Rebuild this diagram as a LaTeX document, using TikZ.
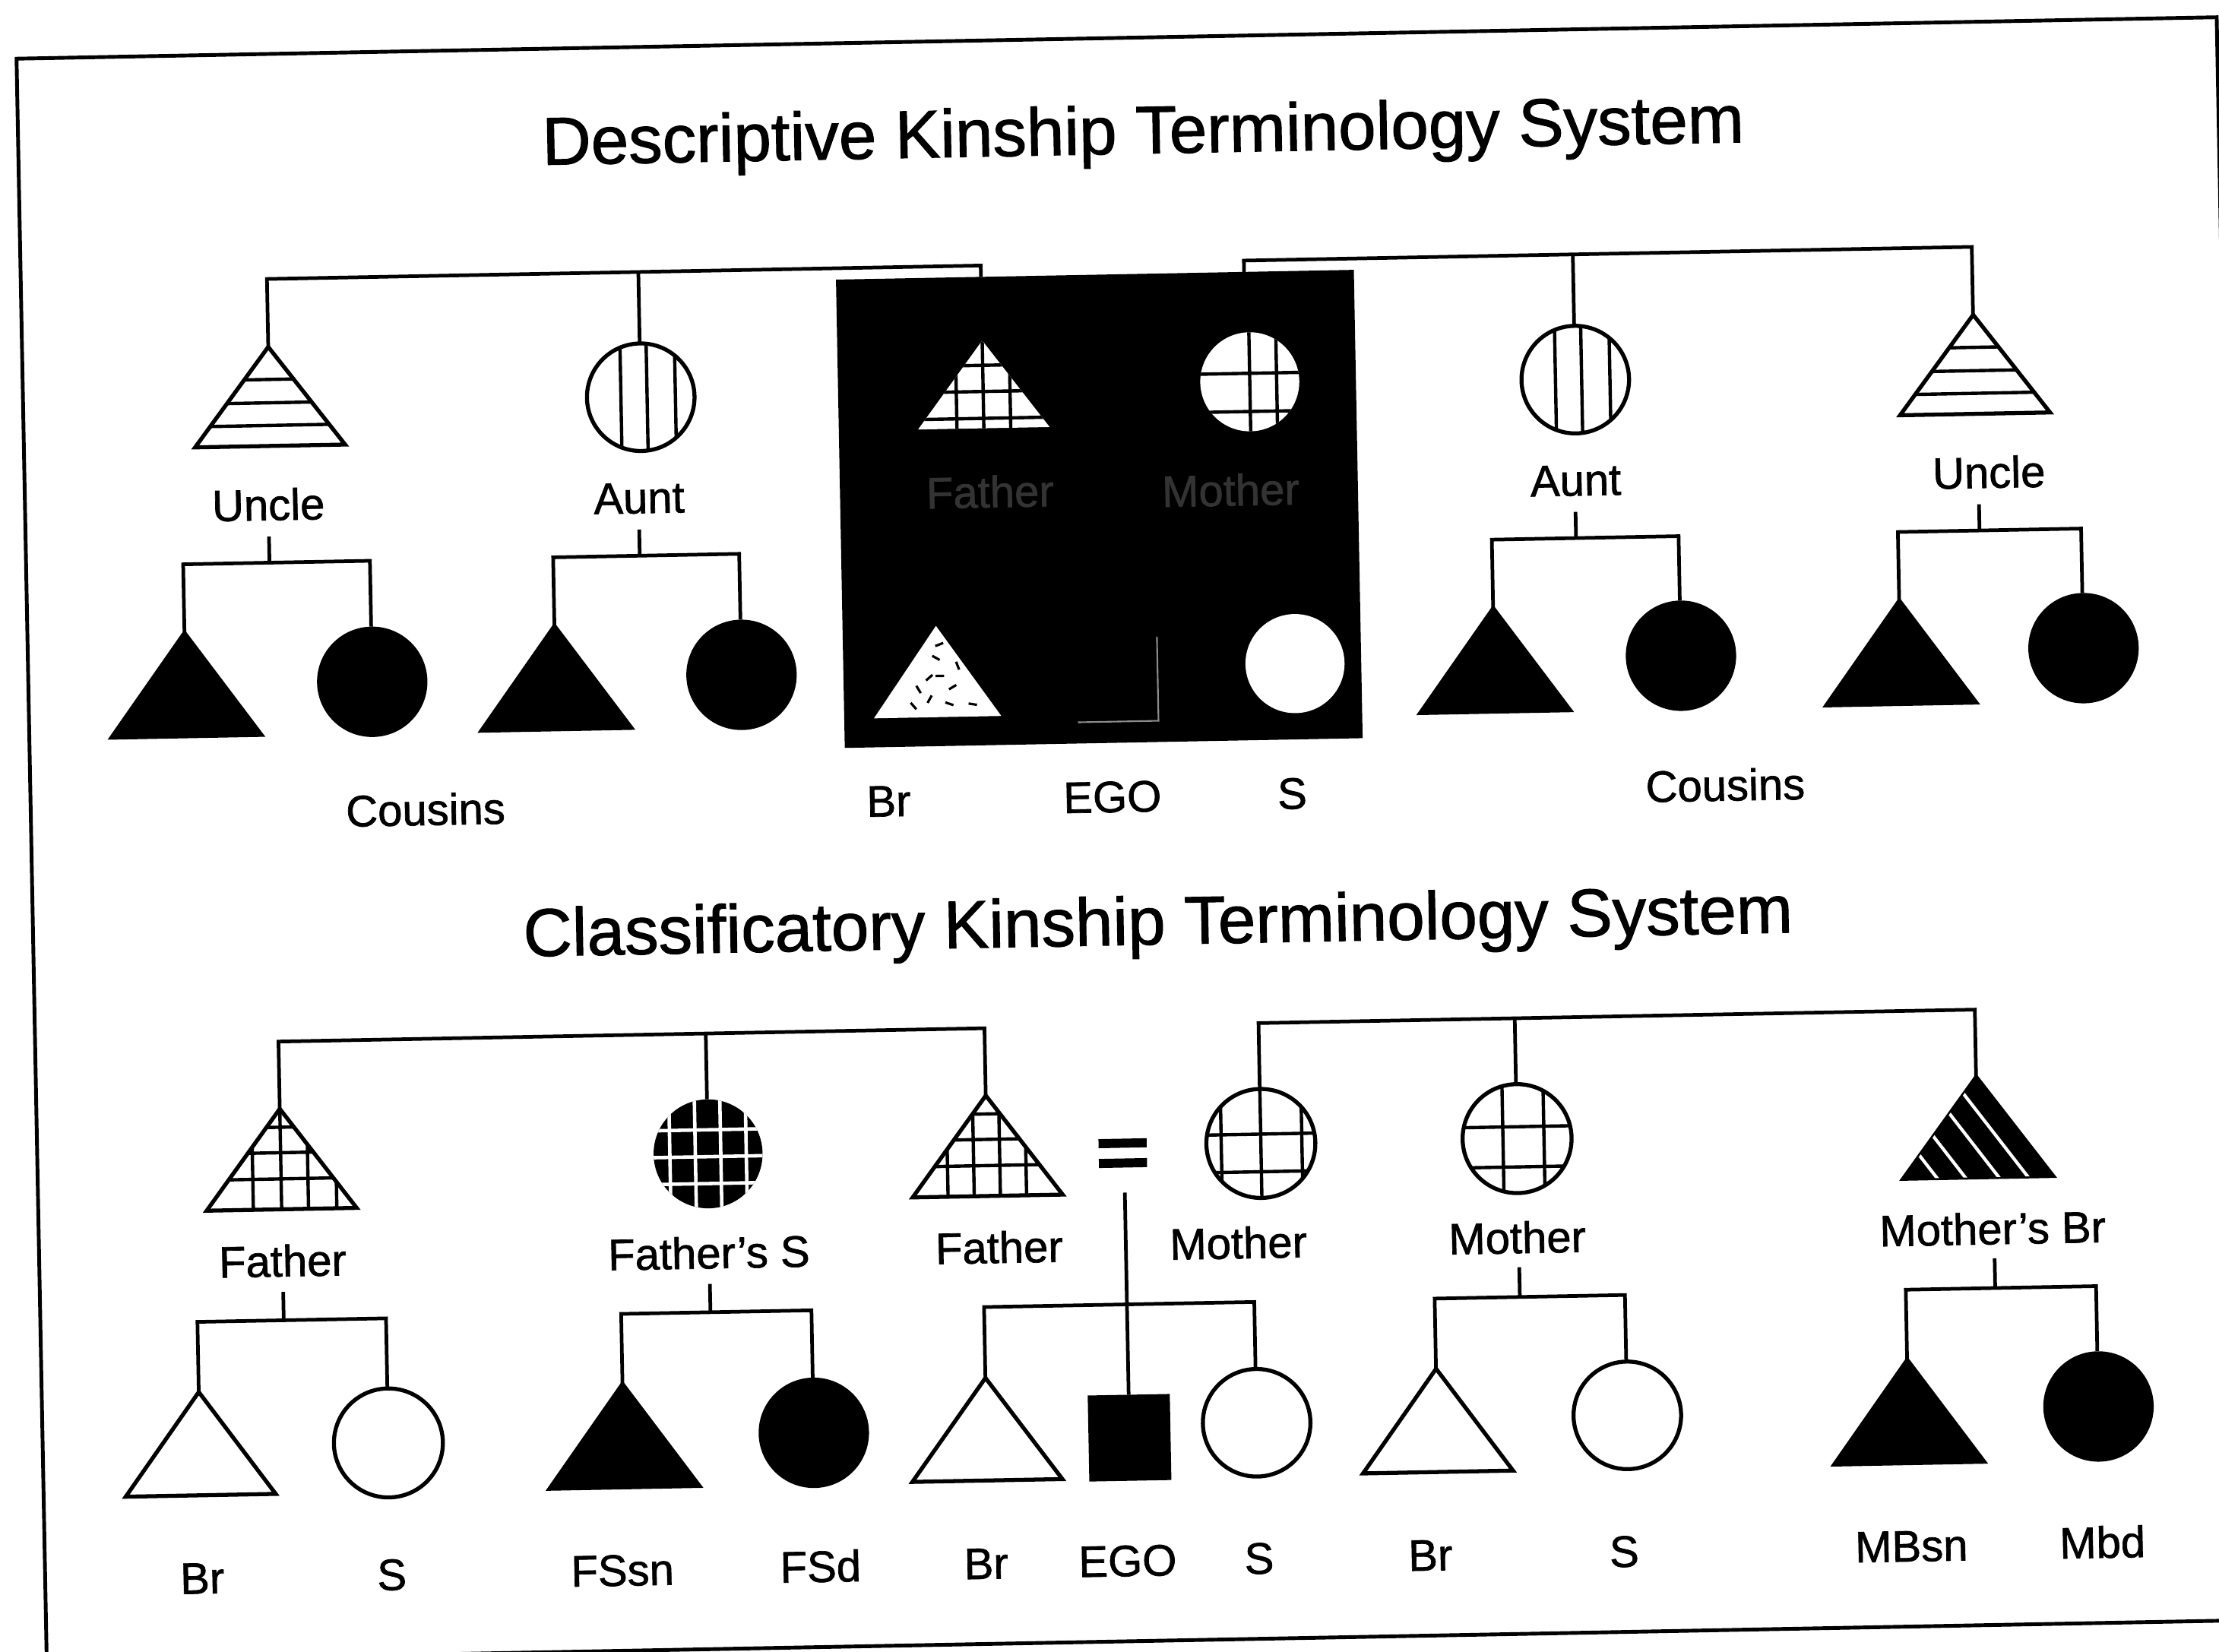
\documentclass[tikz,border=0pt]{standalone}
\usepackage{fontspec}
\setmainfont{Liberation Sans}[FakeBold=1.2]
% isosceles triangle: apex x, apex y, base y
\newcommand{\kintri}[4][]{\path[#1] (#2,#3) -- (#2+53,#4) -- (#2-53,#4) -- cycle;}
% triangle with horizontal stripes
\newcommand{\hstripetri}[3]{%
  \begin{scope}
    \clip (#1,#2) -- (#1+53,#3) -- (#1-53,#3) -- cycle;
    \foreach \d in {23,39.5,55.5}{\draw[hatch] (#1-60,#2+\d) -- (#1+60,#2+\d);}
  \end{scope}
  \kintri[outl]{#1}{#2}{#3}}
% circle with vertical stripes
\newcommand{\vstripecirc}[2]{%
  \begin{scope}
    \clip (#1,#2) circle (38);
    \foreach \d in {-14,4.5,24.5}{\draw[hatch] (#1+\d,#2-40) -- (#1+\d,#2+40);}
  \end{scope}
  \draw[outl] (#1,#2) circle (38);}
% triangle with a square grid: x, apex, base, vertical offsets, horizontal offsets above base
\newcommand{\gridtri}[5]{%
  \begin{scope}
    \clip (#1,#2) -- (#1+53,#3) -- (#1-53,#3) -- cycle;
    \foreach \d in {#4}{\draw[hatch] (#1+\d,#2-5) -- (#1+\d,#3+5);}
    \foreach \d in {#5}{\draw[hatch] (#1-60,#3-\d) -- (#1+60,#3-\d);}
  \end{scope}
  \kintri[outl]{#1}{#2}{#3}}
% circle with a grid: x, y, r, vertical offsets, horizontal offsets
\newcommand{\gridcirc}[5]{%
  \begin{scope}
    \clip (#1,#2) circle (#3);
    \foreach \d in {#4}{\draw[hatch] (#1+\d,#2-45) -- (#1+\d,#2+45);}
    \foreach \d in {#5}{\draw[hatch] (#1-45,#2+\d) -- (#1+45,#2+\d);}
  \end{scope}
  \draw[outl] (#1,#2) circle (#3);}
\begin{document}
\begin{tikzpicture}[x=0.01862cm,y=-0.01862cm,
  conn/.style={line width=1.35pt},
  outl/.style={line width=1.5pt, draw=black, line join=miter},
  blk/.style={line width=1.5pt, draw=black, fill=black, line join=miter},
  wht/.style={line width=1.5pt, draw=black, fill=white, line join=miter},
  hatch/.style={line width=1.25pt},
  lab/.style={font=\fontsize{16.5}{18}\selectfont, inner sep=0pt, anchor=base},
  ttl/.style={font=\fontsize{25.3}{28}\selectfont, inner sep=0pt, anchor=base},
  faint/.style={lab, text=black!80},
  dash mark/.style={line width=0.9pt, black}]
\useasboundingbox (0,0) rectangle (1568,1167);
\fill[white] (0,0) rectangle (1568,1167);
\begin{scope}[rotate around={1.08:(784,583)}, transform shape]

% outer frame
\draw[line width=1.4pt] (22,27) rectangle (1577,1160);

% ================= Descriptive system =================
\node[ttl] (t1) at (817,109) {Descriptive Kinship Terminology System};

% dark panel around ego's own family
\fill (598,194) rectangle (964,525);

% parents' generation
\coordinate (uL) at (196,234);
\coordinate (aL) at (458.5,236.5);
\coordinate (pL) at (700.5,194);
\coordinate (pR) at (886.5,194);
\coordinate (aR) at (1119,236.5);
\coordinate (uR) at (1401,234);
\draw[conn] (uL) -- ++(0,-48) -| (pL);
\draw[conn] (aL) -- ++(0,-50.5);
\draw[conn] (pR) -- ++(0,-8) -| (uR);
\draw[conn] (aR) -- ++(0,-50.5);

\hstripetri{196}{234}{304}
\vstripecirc{458.5}{274.5}
\vstripecirc{1119}{274.5}
\hstripetri{1401}{234}{304}

% shapes inside the dark panel
\begin{scope}
  \fill[white] (700.5,239) -- (747,301) -- (654,301) -- cycle;
  \clip (700.5,239) -- (747,301) -- (654,301) -- cycle;
  \foreach \d in {-19,0,19}{\draw[hatch] (700.5+\d,230) -- (700.5+\d,305);}
  \foreach \d in {7,26,44.5}{\draw[hatch] (650,301-\d) -- (750,301-\d);}
\end{scope}
\begin{scope}
  \fill[white] (889,271.7) circle (35);
  \clip (889,271.7) circle (35);
  \foreach \d in {0,19}{\draw[hatch] (889+\d,230) -- (889+\d,310);}
  \foreach \d in {-6,21}{\draw[hatch] (850,271.7+\d) -- (930,271.7+\d);}
\end{scope}
\fill[white] (664,440) -- (709,504.5) -- (619,504.5) -- cycle;
\foreach \px/\py/\a in {663.6/462.6/30, 658.6/476.5/-40, 650.9/484.7/60, 666.1/475.4/0,
  675/483.5/-30, 689/495.8/10, 647.1/496.3/50, 658.6/491.7/-60, 672.5/495.2/20,
  678.8/468.4/70, 666.1/453.2/-20}{
  \draw[dash mark] (\px,\py) ++(\a:3) -- ++(\a+180:6);}
\fill[white] (917.2,471.4) circle (35);
\draw[black!45, line width=0.6pt] (820,450.6) -- (820,510) -- (763,510);

% labels of the parents' generation
\node[lab] (lUncleL) at (194,356.5) {Uncle};
\node[lab] (lAuntL) at (456,356.5) {Aunt};
\node[faint] (lFaD) at (704,357) {Father};
\node[faint] (lMoD) at (874,359) {Mother};
\node[lab] (lAuntR) at (1118,356.5) {Aunt};
\node[lab] (lUncleR) at (1410,356.5) {Uncle};

% cousins
\coordinate (tUL) at (194,368);
\coordinate (tAL) at (455.7,368);
\coordinate (tAR) at (1117.5,368);
\coordinate (tUR) at (1402.7,368);
\foreach \t in {tUL,tAL,tAR,tUR}{\draw[conn] (\t) -- ++(0,18.5);}

\coordinate (cUL1) at (133,435);   \coordinate (cUL2) at (265,433);
\coordinate (cAL1) at (394.5,435); \coordinate (cAL2) at (526,433);
\coordinate (cAR1) at (1058,435);  \coordinate (cAR2) at (1190,432);
\coordinate (cUR1) at (1345,435);  \coordinate (cUR2) at (1474.5,432);
\draw[conn] (cUL1) -- ++(0,-48.5) -| (cUL2);
\draw[conn] (cAL1) -- ++(0,-48.5) -| (cAL2);
\draw[conn] (cAR1) -- ++(0,-48.5) -| (cAR2);
\draw[conn] (cUR1) -- ++(0,-48.5) -| (cUR2);

\kintri[blk]{133}{435}{508}
\fill (265,472) circle (39);
\kintri[blk]{394.5}{435}{508}
\fill (526,472) circle (39);
\kintri[blk]{1058}{435}{508}
\fill (1190,471) circle (39);
\kintri[blk]{1345}{435}{508}
\fill (1474.5,471) circle (39);

\node[lab] (lCousL) at (301,574) {Cousins};
\node[lab] (lBrD) at (628.3,574) {Br};
\node[lab] (lEgoD) at (786.4,574) {EGO};
\node[lab] (lSD) at (913.5,574) {S};
\node[lab] (lCousR) at (1219.6,574) {Cousins};

% ================= Classificatory system =================
\node[ttl] (t2) at (817,668) {Classificatory Kinship Terminology System};

\coordinate (f1) at (194,772.5);
\coordinate (fs) at (496,771.5);
\coordinate (f2) at (693,772.5);
\coordinate (m1) at (886.7,771.5);
\coordinate (m2) at (1067.8,771.5);
\coordinate (mb) at (1393,772.5);
\draw[conn] (f1) -- ++(0,-47.5) -| (f2);
\draw[conn] (fs) -- ++(0,-46.5);
\draw[conn] (m1) -- ++(0,-46.5) -| (mb);
\draw[conn] (m2) -- ++(0,-46.5);

\gridtri{194}{772.5}{843.5}{-20,0,19,39}{21.5,40,58}
\fill (496,810) circle (38.5);
\begin{scope}
  \clip (496,810) circle (38.5);
  \foreach \d in {-27,-9,9,27}{\draw[white, line width=1.3pt] (496+\d,765) -- (496+\d,855);}
  \foreach \d in {-17,2,21}{\draw[white, line width=1.3pt] (450,810+\d) -- (542,810+\d);}
\end{scope}
\gridtri{693}{772.5}{843.5}{-28,-9.5,9,27.5}{21.5,40,58}
\draw[line width=3.4pt] (772,808) -- (806,808);
\draw[line width=3.4pt] (772,822) -- (806,822);
\gridcirc{886.7}{810}{38.5}{-28,0,29}{-6.6,20}
\gridcirc{1067.8}{810}{38.5}{-10,19}{-8.4,20}
\kintri[blk]{1393}{772.5}{843.5}
\begin{scope}
  \clip (1393,772.5) -- (1446,843.5) -- (1340,843.5) -- cycle;
  \foreach \d in {18,38.5,62,82}{\draw[white, line width=1.2pt] (1446-\d+10,856.9) -- (1446-\d-60,763.1);}
\end{scope}

\node[lab] (lF1) at (194,891) {Father};
\node[lab] (lFS) at (495.3,891) {Father’s S};
\node[lab] (lF2) at (700.4,891) {Father};
\node[lab] (lM1) at (869.5,891) {Mother};
\node[lab] (lM2) at (1066.6,891) {Mother};
\node[lab] (lMB) at (1402.6,891) {Mother’s Br};

% ego's line of descent
\coordinate (egoT) at (790,843);
\coordinate (egoS) at (790,985.8);
\draw[conn] (egoT) -- (egoS);

% children's generation
\coordinate (tF1) at (194,902);
\coordinate (tFS) at (495.6,902);
\coordinate (tM2) at (1067.7,901);
\coordinate (tMB) at (1403.7,901);
\draw[conn] (tF1) -- ++(0,20);
\draw[conn] (tFS) -- ++(0,20);
\draw[conn] (tM2) -- ++(0,21);
\draw[conn] (tMB) -- ++(0,21);

\coordinate (k11) at (133,971.5);  \coordinate (k12) at (266.3,971.5);
\coordinate (k21) at (432.5,971.5); \coordinate (k22) at (567,969.5);
\coordinate (k31) at (689,972);    \coordinate (k32) at (880,969.3);
\coordinate (k41) at (1007.5,971.5); \coordinate (k42) at (1142,969);
\coordinate (k51) at (1340.5,971.5); \coordinate (k52) at (1475,968);
\draw[conn] (k11) -- ++(0,-49.5) -| (k12);
\draw[conn] (k21) -- ++(0,-49.5) -| (k22);
\draw[conn] (k31) -- ++(0,-50) -| (k32);
\draw[conn] (k41) -- ++(0,-49.5) -| (k42);
\draw[conn] (k51) -- ++(0,-49.5) -| (k52);

\kintri[wht]{133}{971.5}{1044.5}
\draw[wht] (266.3,1010) circle (38.5);
\kintri[blk]{432.5}{971.5}{1044.5}
\fill (567,1008.5) circle (39);
\kintri[wht]{689}{972}{1044.5}
\fill (761,985.8) rectangle (819,1046.6);
\draw[wht] (880,1007.3) circle (38);
\kintri[wht]{1007.5}{971.5}{1044.5}
\draw[wht] (1142,1007) circle (38);
\kintri[blk]{1340.5}{971.5}{1044.5}
\fill (1475,1007) circle (39);

\node[lab] (lBr1) at (133,1114) {Br};
\node[lab] (lS1) at (267,1114) {S};
\node[lab] (lFSsn) at (430,1114) {FSsn};
\node[lab] (lFSd) at (570,1114) {FSd};
\node[lab] (lBr2) at (687,1114) {Br};
\node[lab] (lEgo) at (787,1114) {EGO};
\node[lab] (lS2) at (880,1114) {S};
\node[lab] (lBr3) at (1001,1114) {Br};
\node[lab] (lS3) at (1138,1114) {S};
\node[lab] (lMBsn) at (1341,1114) {MBsn};
\node[lab] (lMbd) at (1476,1114) {Mbd};

\end{scope}
\end{tikzpicture}
\end{document}
